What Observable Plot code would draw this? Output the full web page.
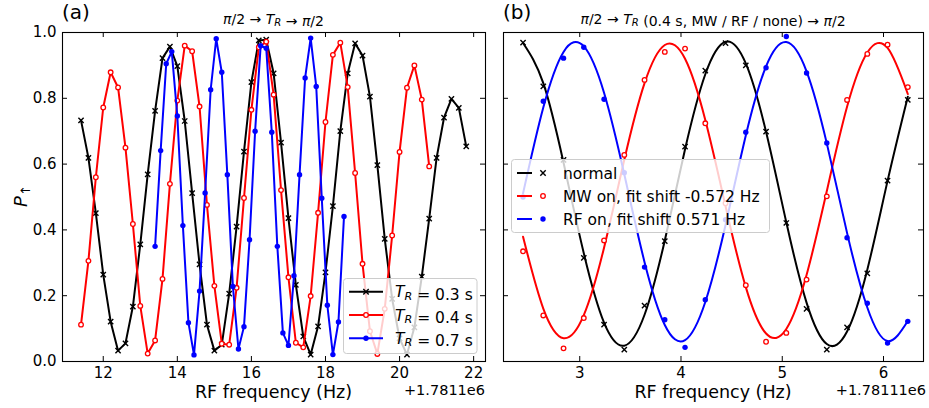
<!DOCTYPE html>
<html><head><meta charset="utf-8">
<script src="https://cdn.jsdelivr.net/npm/d3@7"></script>
<script src="https://cdn.jsdelivr.net/npm/@observablehq/plot@0.6"></script>
<style>
html,body{margin:0;padding:0;background:#fff;}
#wrap{position:relative;width:929px;height:408px;overflow:hidden;font-family:"DejaVu Sans",sans-serif;}
#pa,#pb{position:absolute;top:0;}
#pa{left:0;} #pb{left:490px;}
#overlay{position:absolute;left:0;top:0;}
</style></head><body>
<div id="wrap"><div id="pa"></div><div id="pb"></div><svg id="overlay" width="929" height="408" xmlns="http://www.w3.org/2000/svg"></svg></div>
<script>
// ---------- Panel (a) data: RF frequency offset (Hz, + 1.7811e6) and P_up ----------
const xA03 = [11.4,11.6,11.8,12.0,12.2,12.4,12.6,12.8,13.0,13.2,13.4,13.6,13.8,14.0,14.2,14.4,14.6,14.8,15.0,15.2,15.4,15.6,15.8,16.0,16.2,16.4,16.6,16.8,17.0,17.2,17.4,17.6,17.8,18.0,18.2,18.4,18.6,18.8,19.0,19.2,19.4,19.6,19.8,20.0,20.2,20.4,20.6,20.8,21.0,21.2,21.4,21.6,21.8];
const pA03 = [0.733,0.619,0.451,0.264,0.121,0.033,0.055,0.167,0.356,0.569,0.762,0.922,0.957,0.898,0.731,0.512,0.295,0.112,0.033,0.051,0.206,0.41,0.638,0.849,0.976,0.978,0.876,0.665,0.436,0.233,0.076,0.021,0.107,0.271,0.472,0.70,0.876,0.967,0.93,0.805,0.597,0.373,0.19,0.07,0.021,0.104,0.258,0.434,0.619,0.741,0.798,0.771,0.654];
const xA04 = [11.4,11.6,11.8,12.0,12.2,12.4,12.6,12.8,13.0,13.2,13.4,13.6,13.8,14.0,14.2,14.4,14.6,14.8,15.0,15.2,15.4,15.6,15.8,16.0,16.2,16.4,16.6,16.8,17.0,17.2,17.4,17.6,17.8,18.0,18.2,18.4,18.6,18.8,19.0,19.2,19.4,19.6,19.8,20.0,20.2,20.4,20.6,20.8];
const pA04 = [0.112,0.306,0.56,0.772,0.879,0.833,0.65,0.418,0.169,0.024,0.064,0.251,0.54,0.793,0.96,0.943,0.775,0.476,0.23,0.054,0.051,0.224,0.497,0.765,0.955,0.972,0.811,0.521,0.256,0.057,0.043,0.199,0.452,0.728,0.932,0.969,0.834,0.573,0.297,0.092,0.023,0.16,0.383,0.637,0.832,0.90,0.796,0.593];
const xA07 = [13.4,13.55,13.7,13.85,14.0,14.15,14.3,14.45,14.6,14.75,14.9,15.05,15.2,15.35,15.5,15.65,15.8,15.95,16.1,16.25,16.4,16.55,16.7,16.85,17.0,17.15,17.3,17.45,17.6,17.75,17.9,18.05,18.2,18.35,18.5];
const pA07 = [0.35,0.641,0.905,0.942,0.746,0.413,0.118,0.02,0.214,0.512,0.826,0.981,0.879,0.568,0.228,0.038,0.106,0.37,0.70,0.96,0.952,0.697,0.35,0.087,0.049,0.261,0.568,0.862,0.983,0.836,0.496,0.171,0.021,0.12,0.441];
const xTicksA = [12,14,16,18,20,22];
const yTicks = [0,0.2,0.4,0.6,0.8,1.0];
const legendA = ["0.3","0.4","0.7"];

// ---------- Panel (b) data: RF frequency offset (Hz, + 1.78111e6) ----------
const xB = [2.44,2.64,2.84,3.04,3.24,3.44,3.64,3.84,4.04,4.24,4.44,4.64,4.84,5.04,5.24,5.44,5.64,5.84,6.04,6.24];
const pNormal = [0.969,0.836,0.613,0.315,0.112,0.036,0.17,0.366,0.653,0.884,0.968,0.9,0.699,0.421,0.16,0.036,0.104,0.268,0.55,0.795];
const pMW = [0.335,0.14,0.04,0.132,0.368,0.628,0.856,0.941,0.951,0.724,0.481,0.232,0.06,0.087,0.249,0.502,0.795,0.935,0.963,0.834];
const pRF = [0.50,0.791,0.922,0.955,0.797,0.574,0.287,0.127,0.043,0.188,0.431,0.697,0.893,0.988,0.877,0.664,0.376,0.177,0.056,0.122];
// fitted curves at the same frequencies
const fitNormal = [0.968,0.846,0.604,0.329,0.118,0.048,0.142,0.368,0.645,0.873,0.972,0.906,0.698,0.423,0.179,0.053,0.091,0.279,0.549,0.805];
const fitMW = [0.379,0.161,0.071,0.141,0.346,0.613,0.846,0.962,0.920,0.734,0.472,0.226,0.085,0.099,0.263,0.518,0.774,0.939,0.953,0.813];
const fitRF = [0.511,0.772,0.941,0.958,0.817,0.569,0.302,0.111,0.065,0.181,0.415,0.687,0.897,0.971,0.882,0.663,0.391,0.164,0.062,0.123];
const xTicksB = [3,4,5,6];
const legendB = ["normal","MW on, fit shift -0.572 Hz","RF on, fit shift 0.571 Hz"];

const RED = "#ff0000", BLUE = "#0000ff", BLACK = "#000000";
const zip = (xs, ys) => xs.map((x, i) => ({x, p: ys[i]}));

function inwardTicks(xt, yt, innerW, innerH, len) {
  return [
    Plot.tickX(xt, {x: d => d, insetTop: innerH - len, stroke: "black", strokeWidth: 1}),
    Plot.tickX(xt, {x: d => d, insetBottom: innerH - len, stroke: "black", strokeWidth: 1}),
    Plot.tickY(yt, {y: d => d, insetRight: innerW - len, stroke: "black", strokeWidth: 1}),
    Plot.tickY(yt, {y: d => d, insetLeft: innerW - len, stroke: "black", strokeWidth: 1})
  ];
}
const baseStyle = {fontFamily: "DejaVu Sans", fontSize: "15px", color: "black", background: "white", overflow: "visible"};

// ---------- Panel (a) ----------
const dA03 = zip(xA03, pA03), dA04 = zip(xA04, pA04), dA07 = zip(xA07, pA07);
const plotA = Plot.plot({
  width: 490, height: 408,
  marginLeft: 62, marginRight: 5, marginTop: 32, marginBottom: 47,
  style: baseStyle,
  x: {domain: [10.9, 22.32], ticks: xTicksA, tickSize: 0, tickPadding: 5.5, tickFormat: d => String(d), label: null},
  y: {domain: [0, 1], ticks: yTicks, tickSize: 0, tickPadding: 6, tickFormat: d3.format(".1f"), label: null},
  marks: [
    ...inwardTicks(xTicksA, yTicks, 423, 329, 5),
    Plot.line(dA03, {x: "x", y: "p", stroke: BLACK, strokeWidth: 2}),
    Plot.dot(dA03, {x: "x", y: "p", symbol: "times", r: 2.5, stroke: BLACK, strokeWidth: 1.4}),
    Plot.line(dA04, {x: "x", y: "p", stroke: RED, strokeWidth: 2}),
    Plot.dot(dA04, {x: "x", y: "p", r: 2.3, stroke: RED, fill: "white", strokeWidth: 1.3}),
    Plot.line(dA07, {x: "x", y: "p", stroke: BLUE, strokeWidth: 2}),
    Plot.dot(dA07, {x: "x", y: "p", r: 2.7, fill: BLUE, stroke: "none"}),
    Plot.frame({stroke: "black", strokeWidth: 1.1})
  ]
});
document.getElementById("pa").appendChild(plotA);

// ---------- Panel (b) ----------
const dN = zip(xB, pNormal), dM = zip(xB, pMW), dR = zip(xB, pRF);
const fN = zip(xB, fitNormal), fM = zip(xB, fitMW), fR = zip(xB, fitRF);
const plotB = Plot.plot({
  width: 439, height: 408,
  marginLeft: 13, marginRight: 6, marginTop: 32, marginBottom: 47,
  style: baseStyle,
  x: {domain: [2.247, 6.395], ticks: xTicksB, tickSize: 0, tickPadding: 5.5, tickFormat: d => String(d), label: null},
  y: {domain: [0, 1], axis: null},
  marks: [
    ...inwardTicks(xTicksB, yTicks, 420, 329, 5),
    Plot.line(fN, {x: "x", y: "p", stroke: BLACK, strokeWidth: 2, curve: "natural"}),
    Plot.dot(dN, {x: "x", y: "p", symbol: "times", r: 2.5, stroke: BLACK, strokeWidth: 1.4}),
    Plot.line(fM, {x: "x", y: "p", stroke: RED, strokeWidth: 2, curve: "natural"}),
    Plot.dot(dM, {x: "x", y: "p", r: 2.3, stroke: RED, fill: "white", strokeWidth: 1.3}),
    Plot.line(fR, {x: "x", y: "p", stroke: BLUE, strokeWidth: 2, curve: "natural"}),
    Plot.dot(dR, {x: "x", y: "p", r: 2.7, fill: BLUE, stroke: "none"}),
    Plot.frame({stroke: "black", strokeWidth: 1.1})
  ]
});
document.getElementById("pb").appendChild(plotB);

// ---------- Text, legends ----------
const ov = document.getElementById("overlay");
const it = s => `<tspan font-style="italic">${s}</tspan>`;
const sub = s => `<tspan font-style="italic" font-size="0.72em" dy="0.22em">${s}</tspan><tspan dy="-0.16em"></tspan>`;
function markerSVG(kind, cx, cy) {
  if (kind === 0) return `<path d="M${cx-2.7},${cy-2.7}L${cx+2.7},${cy+2.7}M${cx-2.7},${cy+2.7}L${cx+2.7},${cy-2.7}" stroke="${BLACK}" stroke-width="1.4"/>`;
  if (kind === 1) return `<circle cx="${cx}" cy="${cy}" r="2.3" fill="white" stroke="${RED}" stroke-width="1.3"/>`;
  return `<circle cx="${cx}" cy="${cy}" r="2.7" fill="${BLUE}"/>`;
}
const cols = [BLACK, RED, BLUE];
let h = `<g font-family="DejaVu Sans" fill="black">`;
h += `<text x="62" y="19" font-size="20">(a)</text>`;
h += `<text x="503" y="19" font-size="20">(b)</text>`;
h += `<text x="273.5" y="24" font-size="14" text-anchor="middle">${it("π")}/2 → ${it("T")}${sub("R")} → ${it("π")}/2</text>`;
h += `<text x="713" y="24" font-size="14" text-anchor="middle">${it("π")}/2 → ${it("T")}${sub("R")} (0.4 s, MW / RF / none) → ${it("π")}/2</text>`;
h += `<text transform="translate(27,196) rotate(-90)" font-size="18" text-anchor="middle">${it("P")}<tspan font-size="13" dy="3">↑</tspan></text>`;
h += `<text x="273.5" y="398" font-size="17.5" text-anchor="middle">RF frequency (Hz)</text>`;
h += `<text x="713" y="398" font-size="17.5" text-anchor="middle">RF frequency (Hz)</text>`;
h += `<text x="485" y="394.5" font-size="14.5" text-anchor="end">+1.7811e6</text>`;
h += `<text x="926" y="394.5" font-size="14.5" text-anchor="end">+1.78111e6</text>`;
// legend (a)
h += `<rect x="343.5" y="278.5" width="133.5" height="75" rx="3" fill="white" fill-opacity="0.8" stroke="#cccccc" stroke-width="1"/>`;
legendA.forEach((v, i) => {
  const cy = 291.7 + i * 23.3;
  h += `<line x1="349" x2="383" y1="${cy}" y2="${cy}" stroke="${cols[i]}" stroke-width="2"/>`;
  h += markerSVG(i, 366, cy);
  h += `<text x="395" y="${cy + 5.5}" font-size="15.5">${it("T")}${sub("R")} = ${v} s</text>`;
});
// legend (b)
h += `<rect x="511.5" y="159.5" width="258" height="73" rx="3" fill="white" fill-opacity="0.8" stroke="#cccccc" stroke-width="1"/>`;
legendB.forEach((v, i) => {
  const cy = 173 + i * 23;
  h += `<line x1="517" x2="532" y1="${cy}" y2="${cy}" stroke="${cols[i]}" stroke-width="2"/>`;
  h += markerSVG(i, 543, cy);
  h += `<text x="563" y="${cy + 5.5}" font-size="15.5">${v}</text>`;
});
h += `</g>`;
ov.innerHTML = h;
</script>
</body></html>
